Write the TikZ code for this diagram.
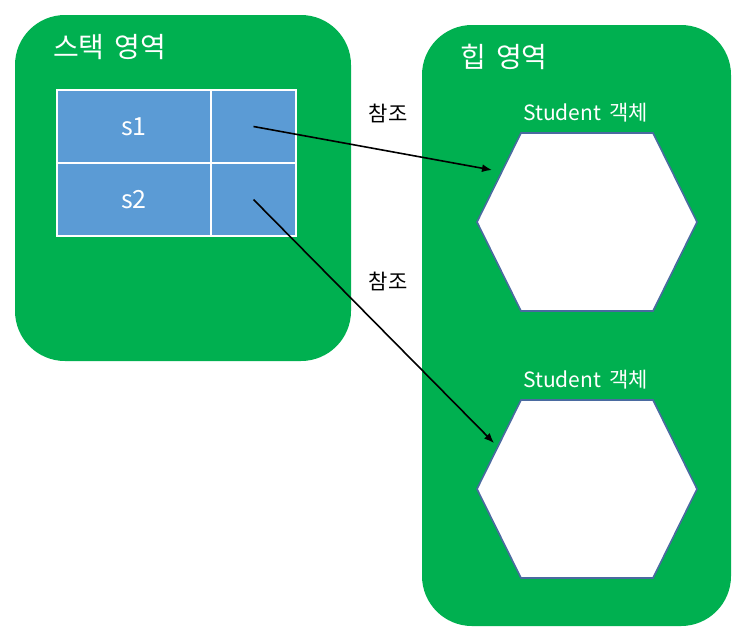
\documentclass[tikz,border=0pt]{standalone}
\usepackage{fontspec}
\setmainfont{Noto Sans CJK KR}
\usetikzlibrary{arrows.meta,positioning,calc}
\definecolor{areagreen}{HTML}{00B050}
\definecolor{cellblue}{HTML}{5B9BD5}
\definecolor{hexline}{HTML}{4A6AA0}

\begin{document}
\begin{tikzpicture}[
    x=1pt, y=-1pt,
    area/.style={fill=areagreen, rounded corners=50pt, inner sep=0pt},
    cell/.style={draw=white, line width=1.5pt, fill=cellblue, minimum height=73pt,
      inner sep=0pt, text=white, font=\fontsize{25}{25}\selectfont},
    obj/.style={draw=hexline, line width=1.6pt, fill=white, line join=miter},
    title/.style={text=white, font=\fontsize{28}{28}\selectfont, inner sep=0pt},
    caption/.style={text=white, font=\fontsize{21}{21}\selectfont, inner sep=0pt},
    arrow/.style={-{Latex[length=10pt,width=8pt]}, line width=1.6pt}
  ]
    \useasboundingbox (0,0) rectangle (738,630);

    \node[area, minimum width=336pt, minimum height=346pt] (stack) at (183,188) {};
    \node[area, minimum width=309pt, minimum height=601pt] (heap) at (576.5,325.5) {};
    \node[title, anchor=west] (stacktitle) at (53,47) {스택\hspace{4pt} 영역};
    \node[title, anchor=west] (heaptitle) at (460,57) {힙\hspace{4pt} 영역};

    \foreach \n/\y/\t in {1/126.5/s1,2/199.5/s2} {
      \node[cell, minimum width=154pt] (var\n) at (134,\y) {\t};
      \node[cell, minimum width=85pt] (ref\n) at (253.5,\y) {};
    }

    \foreach \n/\y in {1/222,2/489} {
      \draw[obj] (477,\y) -- ++(44,-89) -- ++(132,0) -- ++(44,89)
        -- ++(-44,89) -- ++(-132,0) -- cycle;
      \node (obj\n) at (587,\y) {};
      \node[caption] (objtitle\n) at (585.5,\y-109) {Student\hspace{3pt} 객체};
    }

    \coordinate (hit1) at (492,170);
    \coordinate (hit2) at (494,443);
    \draw[arrow] (ref1.center) -- (hit1);
    \draw[arrow] (ref2.center) -- (hit2);
    \node[font=\fontsize{21}{21}\selectfont] (ref1label) at (388,113) {참조};
    \node[font=\fontsize{21}{21}\selectfont] (ref2label) at (388,281) {참조};
  \end{tikzpicture}
\end{document}
